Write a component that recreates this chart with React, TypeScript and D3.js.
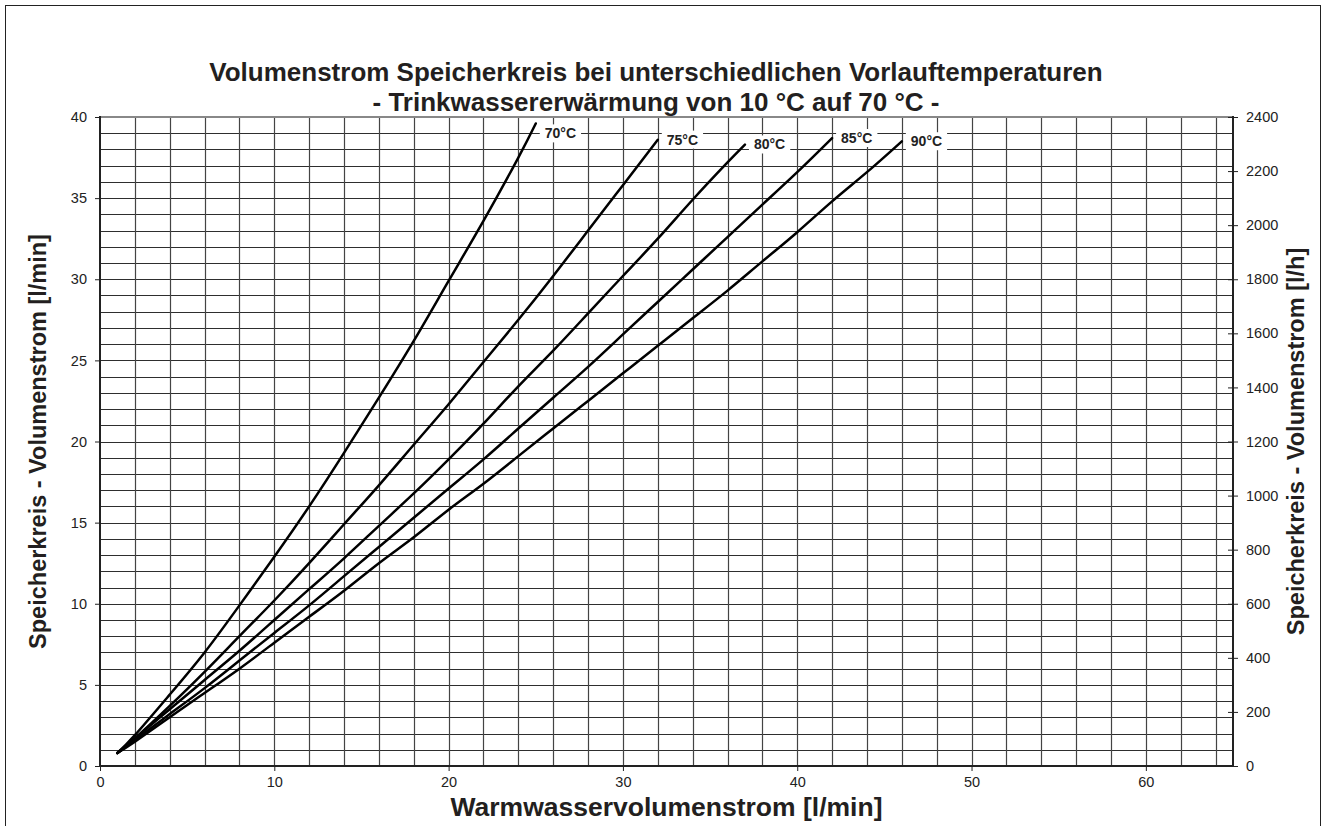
import React, { useEffect, useRef } from 'react';
import * as d3 from 'd3';

// Warmwasservolumenstrom [l/min] -> Speicherkreis-Volumenstrom [l/min]
const curve70: [number, number][] = [
  [1, 0.8], [2, 1.9], [4, 4.4], [6, 7.0], [8, 9.9], [10, 12.9], [12, 16.0], [14, 19.3],
  [16, 22.7], [18, 26.2], [20, 29.9], [22, 33.6], [24, 37.5], [25, 39.6],
];
const curve75: [number, number][] = [
  [1, 0.8], [2, 1.7], [4, 3.7], [6, 5.8], [8, 8.0], [10, 10.2], [12, 12.5], [14, 14.9],
  [16, 17.3], [18, 19.8], [20, 22.3], [22, 24.9], [24, 27.5], [26, 30.2], [28, 33.0],
  [30, 35.8], [32, 38.6],
];
const curve80: [number, number][] = [
  [1, 0.8], [2, 1.7], [4, 3.5], [6, 5.3], [8, 7.1], [10, 9.0], [12, 10.9], [14, 12.8],
  [16, 14.8], [18, 16.8], [20, 18.9], [22, 21.1], [24, 23.4], [26, 25.6], [28, 27.9],
  [30, 30.2], [32, 32.5], [34, 34.9], [36, 37.2], [37, 38.3],
];
const curve85: [number, number][] = [
  [1, 0.8], [2, 1.6], [4, 3.2], [6, 4.8], [8, 6.5], [10, 8.2], [12, 9.9], [14, 11.7],
  [16, 13.5], [18, 15.3], [20, 17.1], [22, 18.9], [24, 20.8], [26, 22.7], [28, 24.6],
  [30, 26.6], [32, 28.6], [34, 30.6], [36, 32.6], [38, 34.6], [40, 36.6], [42, 38.7],
];
const curve90: [number, number][] = [
  [1, 0.8], [2, 1.5], [4, 3.0], [6, 4.5], [8, 6.0], [10, 7.6], [12, 9.2], [14, 10.8],
  [16, 12.5], [18, 14.1], [20, 15.8], [22, 17.4], [24, 19.1], [26, 20.8], [28, 22.5],
  [30, 24.2], [32, 25.9], [34, 27.6], [36, 29.3], [38, 31.1], [40, 32.9], [42, 34.8],
  [44, 36.6], [46, 38.5],
];

const curves = [curve70, curve75, curve80, curve85, curve90];
const curveLabels = ['70°C', '75°C', '80°C', '85°C', '90°C'];

const xTicks = [0, 10, 20, 30, 40, 50, 60];
const yTicksLeft = [0, 5, 10, 15, 20, 25, 30, 35, 40];
const yTicksRight = [0, 200, 400, 600, 800, 1000, 1200, 1400, 1600, 1800, 2000, 2200, 2400];

const titleLines = [
  'Volumenstrom Speicherkreis bei unterschiedlichen Vorlauftemperaturen',
  '- Trinkwassererwärmung von 10 °C auf 70 °C -',
];
const xTitle = 'Warmwasservolumenstrom [l/min]';
const yTitleLeft = 'Speicherkreis - Volumenstrom [l/min]';
const yTitleRight = 'Speicherkreis - Volumenstrom [l/h]';

const FONT = '"Liberation Sans", Arial, Helvetica, sans-serif';

const VolumenstromChart = () => {
  const svgRef = useRef<SVGSVGElement>(null);

  useEffect(() => {
    const svg = d3.select(svgRef.current);
    svg.selectAll('*').remove();
    const height = 826;
    const left = 100, right = 1233, top = 117, bottom = 766;

    const x = d3.scaleLinear().domain([0, 65]).range([left, right]);
    const y = d3.scaleLinear().domain([0, 40]).range([bottom, top]);
    const yR = d3.scaleLinear().domain([0, 2400]).range([bottom, top]);
    const crisp = (v: number) => Math.round(v) + 0.5;

    // outer frame
    svg.append('rect')
      .attr('x', 5.5).attr('y', 5.5)
      .attr('width', 1315).attr('height', height + 10)
      .attr('fill', 'none').attr('stroke', '#222').attr('stroke-width', 1);

    // grid
    const grid = svg.append('g').attr('class', 'grid');
    grid.selectAll('line.h')
      .data(d3.range(1, 40))
      .enter().append('line')
      .attr('class', 'h')
      .attr('x1', left).attr('x2', right)
      .attr('y1', d => crisp(y(d))).attr('y2', d => crisp(y(d)))
      .attr('stroke', '#2e2e2e').attr('stroke-width', 1);
    grid.selectAll('line.v')
      .data(d3.range(2, 65, 2))
      .enter().append('line')
      .attr('class', 'v')
      .attr('x1', d => crisp(x(d))).attr('x2', d => crisp(x(d)))
      .attr('y1', top).attr('y2', bottom)
      .attr('stroke', '#444').attr('stroke-width', 1.2);

    // plot frame
    svg.append('line').attr('x1', left).attr('x2', right).attr('y1', top).attr('y2', top)
      .attr('stroke', '#888').attr('stroke-width', 2);
    svg.append('line').attr('x1', left).attr('x2', left).attr('y1', top - 1).attr('y2', bottom + 1)
      .attr('stroke', '#222').attr('stroke-width', 2);
    svg.append('line').attr('x1', right).attr('x2', right).attr('y1', top - 1).attr('y2', bottom + 1)
      .attr('stroke', '#222').attr('stroke-width', 2);
    svg.append('line').attr('x1', left).attr('x2', right).attr('y1', bottom).attr('y2', bottom)
      .attr('stroke', '#222').attr('stroke-width', 2);

    // axes
    const styleAxis = (g: d3.Selection<SVGGElement, unknown, null, undefined>) => {
      g.select('.domain').remove();
      g.selectAll('.tick line').attr('stroke', '#222').attr('stroke-width', 1);
      g.selectAll('.tick text')
        .attr('fill', '#222')
        .style('font-family', FONT)
        .style('font-size', '14.5px');
    };

    svg.append('g')
      .attr('transform', `translate(${left},0)`)
      .call(d3.axisLeft(y).tickValues(yTicksLeft).tickSize(5).tickPadding(8))
      .call(styleAxis);

    const rightAxis = svg.append('g')
      .attr('transform', `translate(${right},0)`)
      .call(d3.axisRight(yR).tickValues(yTicksRight).tickFormat(d3.format('d')).tickSize(5).tickPadding(8))
      .call(styleAxis);
    rightAxis.selectAll('.tick line').attr('x1', -5).attr('x2', 5);

    svg.append('g')
      .attr('transform', `translate(0,${bottom})`)
      .call(d3.axisBottom(x).tickValues(xTicks).tickSize(5).tickPadding(6))
      .call(styleAxis);

    // curves
    const line = d3.line<[number, number]>()
      .x(d => x(d[0]))
      .y(d => y(d[1]))
      .curve(d3.curveNatural);

    svg.append('g')
      .selectAll('path')
      .data(curves)
      .enter().append('path')
      .attr('d', d => line(d))
      .attr('fill', 'none')
      .attr('stroke', '#000')
      .attr('stroke-width', 2.5)
      .attr('stroke-linecap', 'round');

    // curve labels with white box
    curves.forEach((c, i) => {
      const end = c[c.length - 1];
      const lx = x(end[0]) + 9;
      const ly = y(end[1]) + (end[1] > 39 ? 10 : 0);
      const lg = svg.append('g');
      const bg = lg.append('rect').attr('fill', '#fff');
      const t = lg.append('text')
        .attr('x', lx).attr('y', ly)
        .attr('dy', '0.35em')
        .style('font-family', FONT)
        .style('font-size', '14px')
        .style('font-weight', 'bold')
        .attr('fill', '#222')
        .text(curveLabels[i]);
      const bb = (t.node() as SVGTextElement).getBBox();
      bg.attr('x', bb.x - 5).attr('y', bb.y - 1)
        .attr('width', bb.width + 10).attr('height', bb.height + 2);
    });

    // titles
    svg.selectAll('text.title')
      .data(titleLines)
      .enter().append('text')
      .attr('class', 'title')
      .attr('x', 656)
      .attr('y', (d, i) => 81 + i * 30)
      .attr('text-anchor', 'middle')
      .style('font-family', FONT)
      .style('font-size', '26px')
      .style('font-weight', 'bold')
      .attr('fill', '#231f20')
      .text(d => d);

    svg.append('text')
      .attr('x', (left + right) / 2).attr('y', 816)
      .attr('text-anchor', 'middle')
      .style('font-family', FONT)
      .style('font-size', '26.5px')
      .style('font-weight', 'bold')
      .attr('fill', '#231f20')
      .text(xTitle);

    svg.append('text')
      .attr('transform', `translate(46,${(top + bottom) / 2}) rotate(-90)`)
      .attr('text-anchor', 'middle')
      .style('font-family', FONT)
      .style('font-size', '23.5px')
      .style('font-weight', 'bold')
      .attr('fill', '#231f20')
      .text(yTitleLeft);

    svg.append('text')
      .attr('transform', `translate(1304,${(top + bottom) / 2}) rotate(-90)`)
      .attr('text-anchor', 'middle')
      .style('font-family', FONT)
      .style('font-size', '23.5px')
      .style('font-weight', 'bold')
      .attr('fill', '#231f20')
      .text(yTitleRight);
  }, []);

  return (
    <svg
      ref={svgRef}
      width={1329}
      height={826}
      style={{ position: 'absolute', left: 0, top: 0, background: '#fff', display: 'block' }}
    ></svg>
  );
};

export default function App() {
  return <VolumenstromChart />;
}
